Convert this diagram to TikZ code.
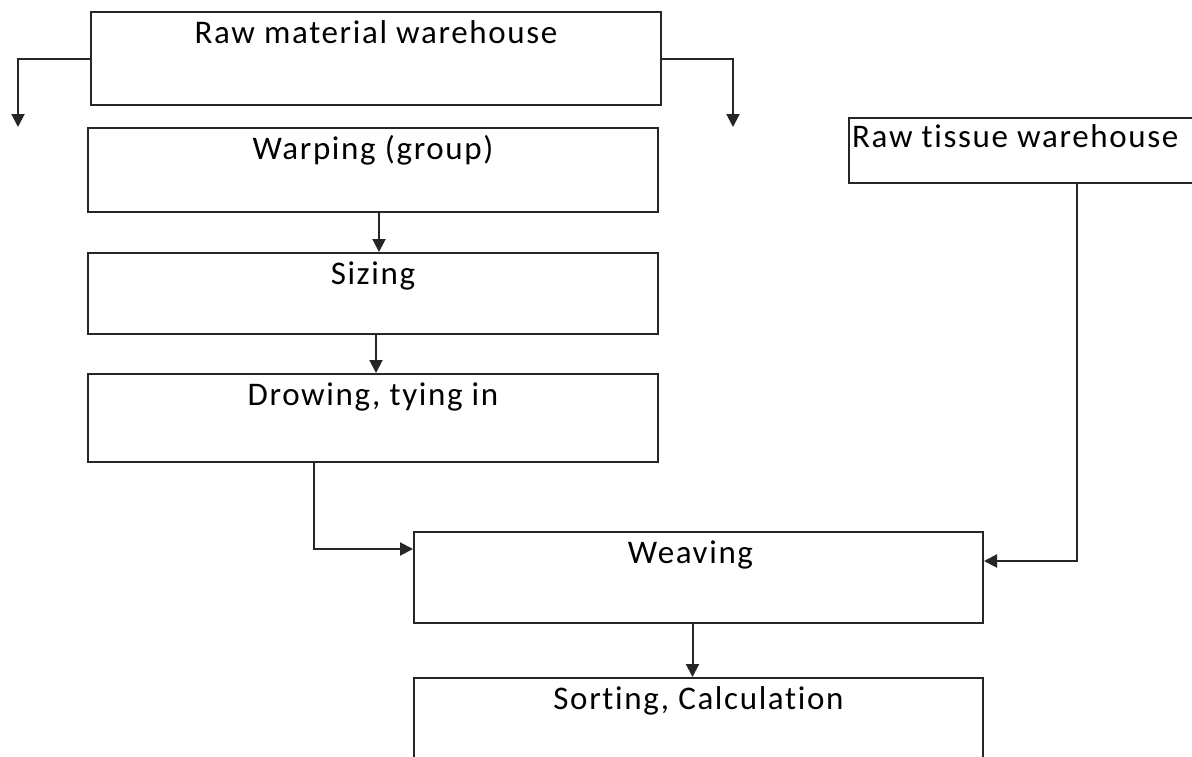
\documentclass[tikz,border=0pt]{standalone}
\usepackage{fontspec}
\setmainfont{Carlito}[Ligatures=CommonOff, LetterSpace=5]
\usetikzlibrary{arrows.meta,calc}
\begin{document}
\begin{tikzpicture}[x=1pt,y=1pt,
  box/.style={draw=black!85, line width=2pt, rectangle, inner sep=0pt, anchor=north west},
  txt/.style={font=\fontsize{33}{36}\selectfont, inner sep=0pt, anchor=base},
  arr/.style={draw=black!85, line width=2pt, -{Triangle[length=13pt,width=13pt]}}]
\useasboundingbox (0,0) rectangle (1192,-756);
\clip (0,0) rectangle (1192,-756);
\fill[white] (0,0) rectangle (1192,-756);
% boxes
\node[box, minimum width=570pt, minimum height=93pt] (rmw) at (90,-11) {};
\node[box, minimum width=570pt, minimum height=84pt] (warp) at (87,-127) {};
\node[box, minimum width=570pt, minimum height=81pt] (size) at (87,-252) {};
\node[box, minimum width=570pt, minimum height=88pt] (drow) at (87,-373) {};
\node[box, minimum width=569pt, minimum height=91pt] (weave) at (413,-531) {};
\node[box, minimum width=569pt, minimum height=120pt] (sort) at (413,-677) {};
\node[box, minimum width=380pt, minimum height=65pt] (rtw) at (848,-117) {};
% texts
\node[txt] (rmwt) at ([yshift=-32pt]rmw.north) {Raw material warehouse};
\node[txt] (warpt) at ([yshift=-32pt]warp.north) {Warping (group)};
\node[txt] (sizet) at ([yshift=-32pt]size.north) {Sizing};
\node[txt] (drowt) at ([yshift=-32pt]drow.north) {Drowing, tying in};
\node[txt] (weavet) at ([xshift=-8pt,yshift=-32pt]weave.north) {Weaving};
\node[txt] (sortt) at ([yshift=-32pt]sort.north) {Sorting, Calculation};
\node[txt, anchor=base west] (rtwt) at ([xshift=4pt,yshift=-30pt]rtw.north west) {Raw tissue warehouse};
% free ends
\coordinate (lt) at (18,-127);
\coordinate (rt) at (733,-127);
% connectors
\draw[arr] (rmw.west) -| (lt);
\draw[arr] (rmw.east) -| (rt);
\draw[arr] ([xshift=6pt]warp.south) -- ([xshift=6pt]size.north);
\draw[arr] ([xshift=3pt]size.south) -- ([xshift=3pt]drow.north);
\draw[arr] ([xshift=-59pt]drow.south) |- ([yshift=28.5pt]weave.west);
\draw[arr] ([xshift=229pt]rtw.south west) |- ([yshift=16.5pt]weave.east);
\draw[arr] ([xshift=-6pt]weave.south) -- ([xshift=-6pt]sort.north);
\end{tikzpicture}
\end{document}
